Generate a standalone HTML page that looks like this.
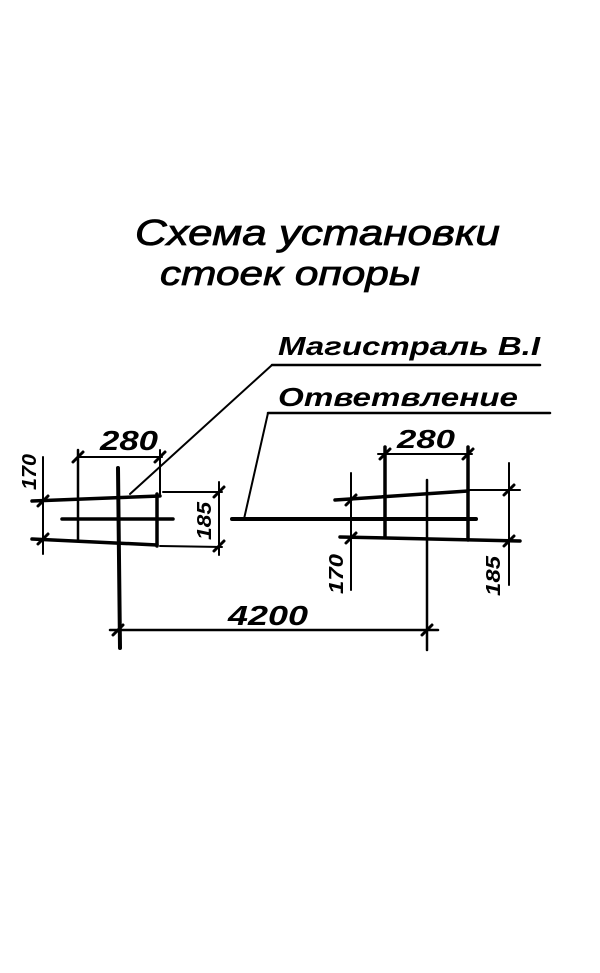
<!DOCTYPE html>
<html><head><meta charset="utf-8"><style>
html,body{margin:0;padding:0;background:#fff;width:600px;height:973px;overflow:hidden}
svg text{font-family:"Liberation Sans",sans-serif;font-style:italic;font-weight:bold;fill:#000}
svg text.t{font-weight:normal}
</style></head><body>
<svg width="600" height="973" viewBox="0 0 600 973" xmlns="http://www.w3.org/2000/svg">
<text class="t" x="135" y="245" font-size="36" textLength="365" lengthAdjust="spacingAndGlyphs" stroke="#000" stroke-width="0.8">Схема   установки</text>
<text class="t" x="160" y="285" font-size="34" textLength="260" lengthAdjust="spacingAndGlyphs" stroke="#000" stroke-width="0.8">стоек   опоры</text>
<text x="278" y="355" font-size="26" textLength="262" lengthAdjust="spacingAndGlyphs">Магистраль В.I</text>
<text x="278" y="406" font-size="26" textLength="240" lengthAdjust="spacingAndGlyphs">Ответвление</text>
<g stroke="#000" fill="none" stroke-linecap="round">
<line x1="272" y1="365" x2="540" y2="365" stroke-width="2.5"/>
<line x1="130" y1="494" x2="272" y2="365" stroke-width="2"/>
<line x1="268" y1="413" x2="550" y2="413" stroke-width="2.5"/>
<line x1="244" y1="519" x2="268" y2="413" stroke-width="2"/>
<line x1="78" y1="457" x2="162" y2="457" stroke-width="2"/>
<line x1="78" y1="450" x2="78" y2="540" stroke-width="2.5"/>
<line x1="160" y1="450" x2="160" y2="494" stroke-width="2"/>
<line x1="32" y1="501" x2="160" y2="496" stroke-width="3.5"/>
<line x1="32" y1="539" x2="157" y2="545" stroke-width="3.5"/>
<line x1="157" y1="494" x2="157" y2="546" stroke-width="3.5"/>
<line x1="62" y1="519" x2="173" y2="519" stroke-width="3.5"/>
<line x1="118" y1="468" x2="120" y2="648" stroke-width="4"/>
<line x1="43" y1="457" x2="43" y2="554" stroke-width="2"/>
<line x1="163" y1="492" x2="222" y2="492" stroke-width="2"/>
<line x1="160" y1="546" x2="222" y2="547" stroke-width="2"/>
<line x1="219" y1="482" x2="219" y2="555" stroke-width="2"/>
<line x1="232" y1="519" x2="476" y2="519" stroke-width="4"/>
<line x1="378" y1="454" x2="472" y2="454" stroke-width="2"/>
<line x1="385" y1="447" x2="385" y2="537" stroke-width="3.5"/>
<line x1="468" y1="447" x2="468" y2="540" stroke-width="3.5"/>
<line x1="335" y1="500" x2="468" y2="491" stroke-width="3.5"/>
<line x1="468" y1="490" x2="520" y2="490" stroke-width="2"/>
<line x1="340" y1="537" x2="520" y2="541" stroke-width="3.5"/>
<line x1="427" y1="480" x2="427" y2="650" stroke-width="2.5"/>
<line x1="351" y1="473" x2="351" y2="590" stroke-width="2"/>
<line x1="509" y1="463" x2="509" y2="585" stroke-width="2"/>
<line x1="110" y1="630" x2="438" y2="630" stroke-width="2.5"/>
</g>
<g stroke="#000" stroke-width="3" stroke-linecap="round">
<line x1="73" y1="462" x2="83" y2="452"/><line x1="155" y1="462" x2="165" y2="452"/>
<line x1="38" y1="506" x2="48" y2="496"/><line x1="38" y1="544" x2="48" y2="534"/>
<line x1="214" y1="497" x2="224" y2="487"/><line x1="214" y1="551" x2="224" y2="541"/>
<line x1="380" y1="459" x2="390" y2="449"/><line x1="463" y1="459" x2="473" y2="449"/>
<line x1="346" y1="505" x2="356" y2="495"/><line x1="346" y1="543" x2="356" y2="533"/>
<line x1="504" y1="495" x2="514" y2="485"/><line x1="504" y1="546" x2="514" y2="536"/>
<line x1="113" y1="635" x2="123" y2="625"/><line x1="422" y1="635" x2="432" y2="625"/>
</g>
<text x="100" y="450" font-size="28" textLength="58" lengthAdjust="spacingAndGlyphs">280</text>
<text x="397" y="448" font-size="26" textLength="58" lengthAdjust="spacingAndGlyphs">280</text>
<text x="228" y="625" font-size="28" textLength="80" lengthAdjust="spacingAndGlyphs">4200</text>
<text transform="translate(36,490) rotate(-90)" font-size="20" textLength="36" lengthAdjust="spacingAndGlyphs">170</text>
<text transform="translate(211,540) rotate(-90)" font-size="20" textLength="38" lengthAdjust="spacingAndGlyphs">185</text>
<text transform="translate(343,594) rotate(-90)" font-size="20" textLength="40" lengthAdjust="spacingAndGlyphs">170</text>
<text transform="translate(500,596) rotate(-90)" font-size="20" textLength="40" lengthAdjust="spacingAndGlyphs">185</text>
</svg>
</body></html>
